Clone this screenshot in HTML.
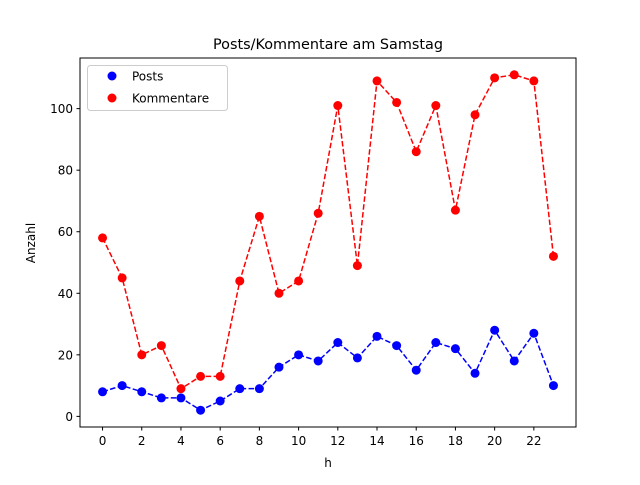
<!DOCTYPE html>
<html><head><meta charset="utf-8"><style>
body{margin:0;background:#fff}
svg text{font-family:"DejaVu Sans","Liberation Sans",sans-serif;fill:#000}
</style></head><body>
<svg id="c" width="640" height="480">
<rect width="640" height="480" fill="#fff"/>
<text x="328" y="49" font-size="14.4" text-anchor="middle">Posts/Kommentare am Samstag</text>
<g id="ax"></g>
<g id="plot"></g>
<rect x="80" y="58" width="496" height="369" fill="none" stroke="#000" stroke-width="1"/>
<text x="328" y="467" font-size="12" text-anchor="middle">h</text>
<text transform="translate(35,243) rotate(-90)" font-size="12" text-anchor="middle">Anzahl</text>
<g>
<rect x="87.5" y="65.5" width="140" height="45" rx="3" fill="#fff" fill-opacity="0.8" stroke="#ccc"/>
<circle cx="112" cy="76" r="4.5" fill="blue"/>
<text x="132" y="80.5" font-size="12">Posts</text>
<circle cx="112" cy="98" r="4.5" fill="red"/>
<text x="132" y="102.5" font-size="12">Kommentare</text>
</g>
</svg>
<script>
const hours=[0,1,2,3,4,5,6,7,8,9,10,11,12,13,14,15,16,17,18,19,20,21,22,23];
const posts=[8,10,8,6,6,2,5,9,9,16,20,18,24,19,26,23,15,24,22,14,28,18,27,10];
const kommentare=[58,45,20,23,9,13,13,44,65,40,44,66,101,49,109,102,86,101,67,98,110,111,109,52];
const xTicks=[0,2,4,6,8,10,12,14,16,18,20,22];
const yTicks=[0,20,40,60,80,100];
const NS="http://www.w3.org/2000/svg";
const xMin=-1.15,xMax=24.15,yMin=-3.45,yMax=116.45;
const X=v=>80+(v-xMin)/(xMax-xMin)*496;
const Y=v=>427-(v-yMin)/(yMax-yMin)*369;
const ax=document.getElementById('ax'),plot=document.getElementById('plot');
function mk(t,a,p){const e=document.createElementNS(NS,t);for(const k in a)e.setAttribute(k,a[k]);p.appendChild(e);return e;}
xTicks.forEach(t=>{
  const l=mk('line',{x1:X(t),x2:X(t),y1:427,y2:430.5,stroke:'#000'},ax);
  
  
  const tx=mk('text',{x:X(t),y:445,'font-size':12,'text-anchor':'middle'},ax);tx.textContent=t;
  
  
});
yTicks.forEach(t=>{
  const l=mk('line',{x1:76.5,x2:80,y1:Y(t),y2:Y(t),stroke:'#000'},ax);
  
  
  const tx=mk('text',{x:73,y:Y(t)+4.5,'font-size':12,'text-anchor':'end'},ax);tx.textContent=t;
  
  
});
function series(vals,color,name){
  const pl=mk('polyline',{points:vals.map((v,i)=>X(hours[i])+','+Y(v)).join(' '),fill:'none',stroke:color,'stroke-width':1.5,'stroke-dasharray':'5.5,2.4'},plot);
  
  
  vals.forEach((v,i)=>{
    const c=mk('circle',{cx:X(hours[i]),cy:Y(v),r:4.5,fill:color},plot);
    
    
  });
}
series(posts,'blue','posts');
series(kommentare,'red','kommentare');
</script>
</body></html>
